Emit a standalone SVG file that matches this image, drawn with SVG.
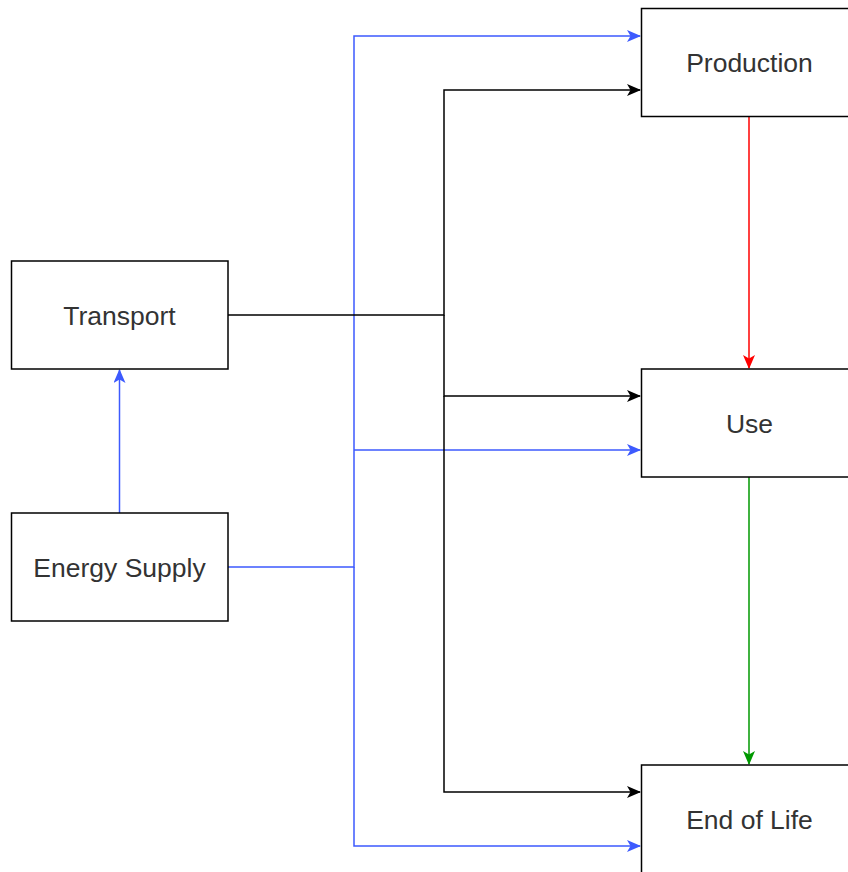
<svg xmlns="http://www.w3.org/2000/svg" width="848" height="872" viewBox="0 0 848 872">
<defs>
<style>
.box{fill:#fff;stroke:#000;stroke-width:1.5}
.lbl{font-family:"Liberation Sans",Arial,sans-serif;font-size:26.5px;fill:#333;text-anchor:middle;dominant-baseline:central}
.c{fill:none;stroke-width:1.5}
.blue{stroke:#3D5AFE}
.black{stroke:#000}
.red{stroke:#FF0000}
.green{stroke:#009900}
</style>
<marker id="ab" viewBox="0 0 14 12" refX="13" refY="6" markerWidth="14" markerHeight="12" markerUnits="userSpaceOnUse" orient="auto"><path d="M0,0 L14,6 L0,12 L3.5,6 Z" fill="#3D5AFE"/></marker>
<marker id="ak" viewBox="0 0 14 12" refX="13" refY="6" markerWidth="14" markerHeight="12" markerUnits="userSpaceOnUse" orient="auto"><path d="M0,0 L14,6 L0,12 L3.5,6 Z" fill="#000"/></marker>
<marker id="ar" viewBox="0 0 14 12" refX="13" refY="6" markerWidth="14" markerHeight="12" markerUnits="userSpaceOnUse" orient="auto"><path d="M0,0 L14,6 L0,12 L3.5,6 Z" fill="#FF0000"/></marker>
<marker id="ag" viewBox="0 0 14 12" refX="13" refY="6" markerWidth="14" markerHeight="12" markerUnits="userSpaceOnUse" orient="auto"><path d="M0,0 L14,6 L0,12 L3.5,6 Z" fill="#009900"/></marker>
</defs>
<rect width="848" height="872" fill="#fff"/>
<g id="connectors">
<path class="c blue" d="M228,567 H354 V36 H640" marker-end="url(#ab)"/>
<path class="c blue" d="M354,450 H640" marker-end="url(#ab)"/>
<path class="c blue" d="M354,567 V846 H640" marker-end="url(#ab)"/>
<path class="c blue" d="M119.5,513 V370" marker-end="url(#ab)"/>
<path class="c black" d="M228,315 H444 V90 H640" marker-end="url(#ak)"/>
<path class="c black" d="M444,315 V396 H640" marker-end="url(#ak)"/>
<path class="c black" d="M444,396 V792 H640" marker-end="url(#ak)"/>
<path class="c red" d="M749,117 V368" marker-end="url(#ar)"/>
<path class="c green" d="M749,477 V764" marker-end="url(#ag)"/>
</g>
<g id="production"><rect class="box" x="641.5" y="8.5" width="216" height="108"/><text class="lbl" x="749.5" y="63">Production</text></g>
<g id="use"><rect class="box" x="641.5" y="369" width="216" height="108"/><text class="lbl" x="749.5" y="424">Use</text></g>
<g id="endoflife"><rect class="box" x="641.5" y="765" width="216" height="108"/><text class="lbl" x="749.5" y="820">End of Life</text></g>
<g id="transport"><rect class="box" x="11.5" y="261" width="216.5" height="108"/><text class="lbl" x="119.5" y="316">Transport</text></g>
<g id="energysupply"><rect class="box" x="11.5" y="513" width="216.5" height="108"/><text class="lbl" x="119.5" y="568">Energy Supply</text></g>
</svg>
